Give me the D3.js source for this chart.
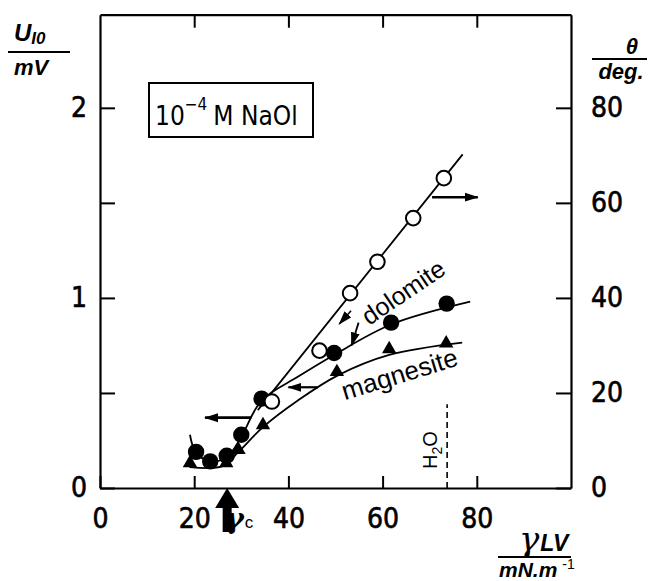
<!DOCTYPE html>
<html>
<head>
<meta charset="utf-8">
<script src="https://cdn.jsdelivr.net/npm/d3@7"></script>
<style>
  body { margin: 0; background: #fff; }
  svg { display: block; }
</style>
</head>
<body>
<svg id="chart" width="651" height="581"></svg>
<script>
var gammaOpen = [36.5, 46.6, 53.1, 58.9, 66.5, 73.0];      // contact angle, dolomite
var thetaOpen = [18.2, 28.9, 41.0, 47.6, 56.8, 65.2];
var gammaDol = [20.4, 23.4, 26.9, 30.0, 34.3, 49.7, 61.8, 73.6];
var uDol = [0.19, 0.14, 0.17, 0.28, 0.47, 0.71, 0.87, 0.97];
var gammaMag = [19.1, 26.8, 29.4, 34.6, 50.3, 61.4, 73.5];
var uMag = [0.12, 0.12, 0.19, 0.32, 0.60, 0.72, 0.75];

// hand drawn trend curves
var fitOpenGamma = [33.5, 77.0];
var fitOpenTheta = [16.4, 70.2];
var fitDolGamma = [19.1, 20.3, 23.3, 27.0, 30.0, 34.3, 42.0, 49.7, 61.8, 78.6];
var fitDolU = [0.28, 0.19, 0.14, 0.165, 0.27, 0.46, 0.585, 0.70, 0.86, 0.98];
var fitMagGamma = [19.0, 26.0, 29.4, 34.6, 42.0, 50.3, 61.4, 76.9];
var fitMagU = [0.11, 0.115, 0.19, 0.32, 0.46, 0.59, 0.70, 0.765];

var xTicks = [0, 20, 40, 60, 80];
var uTicks = [0, 0.5, 1, 1.5, 2];
var thetaTicks = [0, 20, 40, 60, 80];
var gammaC = 27;
var gammaWater = 73.7;

var NUM = '"Liberation Sans Narrow", "DejaVu Sans Condensed", "Arial Narrow", sans-serif';
var LAB = '"Liberation Sans", Arial, sans-serif';

var svg = d3.select('#chart');
var x = d3.scaleLinear().domain([0, 100]).range([100, 571]);
var yU = d3.scaleLinear().domain([0, 2.49]).range([488, 14.7]);
var yT = d3.scaleLinear().domain([0, 99.6]).range([488, 14.7]);

// arrow head marker
svg.append('defs').append('marker')
  .attr('id', 'head')
  .attr('viewBox', '0 -5 14 10')
  .attr('refX', 13).attr('refY', 0)
  .attr('markerWidth', 14).attr('markerHeight', 10)
  .attr('markerUnits', 'userSpaceOnUse')
  .attr('orient', 'auto')
  .append('path').attr('d', 'M0,-4.5L14,0L0,4.5Z').attr('fill', '#000');

// axes, ticks pointing inwards
var axB = svg.append('g').attr('transform', 'translate(0,' + yU(0) + ')')
  .call(d3.axisBottom(x).tickValues(xTicks).tickSize(-12).tickSizeOuter(0).tickPadding(20));
var axT = svg.append('g').attr('transform', 'translate(0,' + yU.range()[1] + ')')
  .call(d3.axisTop(x).tickValues([20, 40, 60, 80]).tickSize(-13).tickSizeOuter(0).tickFormat(''));
var axL = svg.append('g').attr('transform', 'translate(' + x(0) + ',0)')
  .call(d3.axisLeft(yU).tickValues(uTicks).tickSize(-15).tickSizeOuter(0).tickPadding(13)
    .tickFormat(function (d) { return d % 1 === 0 ? d : ''; }));
var axR = svg.append('g').attr('transform', 'translate(' + x(100) + ',0)')
  .call(d3.axisRight(yT).tickValues(thetaTicks).tickSize(-15).tickSizeOuter(0).tickPadding(20));

[axB, axT, axL, axR].forEach(function (a) {
  a.select('.domain').attr('stroke', '#000').attr('stroke-width', 2.2);
  a.selectAll('.tick line').attr('stroke', '#000').attr('stroke-width', 2);
  a.selectAll('.tick text').attr('fill', '#000').attr('stroke', '#000').attr('stroke-width', 0.6)
    .style('font-family', NUM).style('font-size', '28px');
});

// curves
var lineU = d3.line().x(function (d) { return x(d[0]); }).y(function (d) { return yU(d[1]); })
  .curve(d3.curveCatmullRom.alpha(0.5));
var lineT = d3.line().x(function (d) { return x(d[0]); }).y(function (d) { return yT(d[1]); });

svg.append('path').datum(d3.zip(fitDolGamma, fitDolU)).attr('d', lineU)
  .attr('fill', 'none').attr('stroke', '#000').attr('stroke-width', 1.8);
svg.append('path').datum(d3.zip(fitMagGamma, fitMagU)).attr('d', lineU)
  .attr('fill', 'none').attr('stroke', '#000').attr('stroke-width', 1.8);
svg.append('path').datum(d3.zip(fitOpenGamma, fitOpenTheta)).attr('d', lineT)
  .attr('fill', 'none').attr('stroke', '#000').attr('stroke-width', 1.8);

// water surface tension
svg.append('line')
  .attr('x1', x(gammaWater)).attr('x2', x(gammaWater))
  .attr('y1', yU(0)).attr('y2', yU(0.44))
  .attr('stroke', '#000').attr('stroke-width', 1.6).attr('stroke-dasharray', '6,4');
var h2o = svg.append('text')
  .attr('transform', 'translate(' + (x(gammaWater) - 10) + ',' + yU(0.2) + ') rotate(-90)')
  .attr('text-anchor', 'middle')
  .style('font-family', LAB).style('font-size', '20px');
h2o.append('tspan').text('H');
h2o.append('tspan').attr('dy', 5).style('font-size', '14px').text('2');
h2o.append('tspan').attr('dy', -5).text('O');

// points
svg.selectAll('.mag').data(d3.zip(gammaMag, uMag)).enter().append('path')
  .attr('class', 'mag')
  .attr('d', d3.symbol().type(d3.symbolTriangle).size(90))
  .attr('transform', function (d) { return 'translate(' + x(d[0]) + ',' + (yU(d[1]) - 2) + ')'; })
  .attr('fill', '#000');
svg.selectAll('.dol').data(d3.zip(gammaDol, uDol)).enter().append('circle')
  .attr('class', 'dol')
  .attr('cx', function (d) { return x(d[0]); })
  .attr('cy', function (d) { return yU(d[1]); })
  .attr('r', 8.2).attr('fill', '#000');
svg.selectAll('.open').data(d3.zip(gammaOpen, thetaOpen)).enter().append('circle')
  .attr('class', 'open')
  .attr('cx', function (d) { return x(d[0]); })
  .attr('cy', function (d) { return yT(d[1]); })
  .attr('r', 7.3).attr('fill', '#fff').attr('stroke', '#000').attr('stroke-width', 2);

// arrows telling which axis belongs to which curve
function arrow(x1, y1, x2, y2, w) {
  svg.append('line')
    .attr('x1', x1).attr('y1', y1).attr('x2', x2).attr('y2', y2)
    .attr('stroke', '#000').attr('stroke-width', w || 2.2)
    .attr('marker-end', 'url(#head)');
}
arrow(x(70.5), yT(61.2), x(80.2), yT(61.2), 2.4);
arrow(x(32.1), yU(0.37), x(22.3), yU(0.37), 2.6);
arrow(x(46.3), yU(0.53), x(40.0), yU(0.53), 2.2);
arrow(x(53.3), yT(37.3), x(50.8), yT(34.5), 1.5);
arrow(x(54.9), yU(0.87), x(53.4), yU(0.75), 1.8);

// curve names
svg.append('text')
  .attr('transform', 'translate(' + x(64.4) + ',' + yU(1.03) + ') rotate(-34)')
  .attr('text-anchor', 'middle').attr('dy', '0.35em')
  .style('font-family', LAB).style('font-size', '25px')
  .text('dolomite');
svg.append('text')
  .attr('transform', 'translate(' + x(63.6) + ',' + yU(0.6) + ') rotate(-17)')
  .attr('text-anchor', 'middle').attr('dy', '0.35em')
  .style('font-family', LAB).style('font-size', '26px')
  .text('magnesite');

// critical surface tension arrow
var gx = x(gammaC), gy = yU(0);
svg.append('path')
  .attr('d', d3.line()([[gx, gy], [gx - 12, gy + 20], [gx + 12, gy + 20]]) + 'Z')
  .attr('fill', '#000');
svg.append('line').attr('x1', gx).attr('x2', gx).attr('y1', gy + 18).attr('y2', gy + 44)
  .attr('stroke', '#000').attr('stroke-width', 9);
var gc = svg.append('text').attr('x', gx - 2).attr('y', gy + 40)
  .style('font-family', '"DejaVu Serif", serif').style('font-style', 'italic')
  .style('font-size', '28px').style('font-weight', 'bold');
gc.append('tspan').text('γ');
gc.append('tspan').attr('dx', 1).style('font-family', LAB)
  .style('font-style', 'normal').style('font-size', '17px').style('font-weight', 'normal').text('c');

// legend box
svg.append('rect').attr('x', 149).attr('y', 83).attr('width', 164).attr('height', 54)
  .attr('fill', 'none').attr('stroke', '#000').attr('stroke-width', 2);
var lg = svg.append('text').attr('x', 155).attr('y', 125)
  .style('font-family', NUM).style('font-size', '26px');
lg.append('tspan').text('10');
lg.append('tspan').attr('dy', -15).style('font-size', '17px').text('−4');
lg.append('tspan').attr('dy', 15).attr('dx', 6).text('M NaOl');

// axis titles
function frac(x1, x2, y) {
  svg.append('line').attr('x1', x1).attr('x2', x2).attr('y1', y).attr('y2', y)
    .attr('stroke', '#000').attr('stroke-width', 2);
}
var bi = function (s) {
  return s.style('font-family', LAB).style('font-weight', 'bold').style('font-style', 'italic');
};
// left
var ul = bi(svg.append('text').attr('x', 14).attr('y', 41).style('font-size', '24px'));
ul.append('tspan').text('U');
ul.append('tspan').attr('dy', 3).style('font-size', '17px').text('I0');
frac(8, 70, 52);
bi(svg.append('text').attr('x', 14).attr('y', 75).style('font-size', '22px')).text('mV');
// right
bi(svg.append('text').attr('x', 632).attr('y', 54).attr('text-anchor', 'middle').style('font-size', '22px')).text('θ');
frac(592, 647, 59);
bi(svg.append('text').attr('x', 621).attr('y', 79).attr('text-anchor', 'middle').style('font-size', '22px')).text('deg.');
// bottom
var gl = svg.append('text').attr('x', 519).attr('y', 551);
gl.append('tspan').style('font-family', '"DejaVu Serif", serif').style('font-style', 'italic')
  .style('font-size', '34px').text('γ');
bi(gl.append('tspan').attr('dx', 1).style('font-size', '23px')).text('LV');
frac(498, 571, 557);
var ml = bi(svg.append('text').attr('x', 499).attr('y', 577).style('font-size', '21px'));
ml.append('tspan').text('mN.m');
ml.append('tspan').attr('dx', 5).attr('dy', -8).style('font-size', '14px')
  .style('font-weight', 'normal').style('font-style', 'normal').text('-1');
</script>
</body>
</html>
